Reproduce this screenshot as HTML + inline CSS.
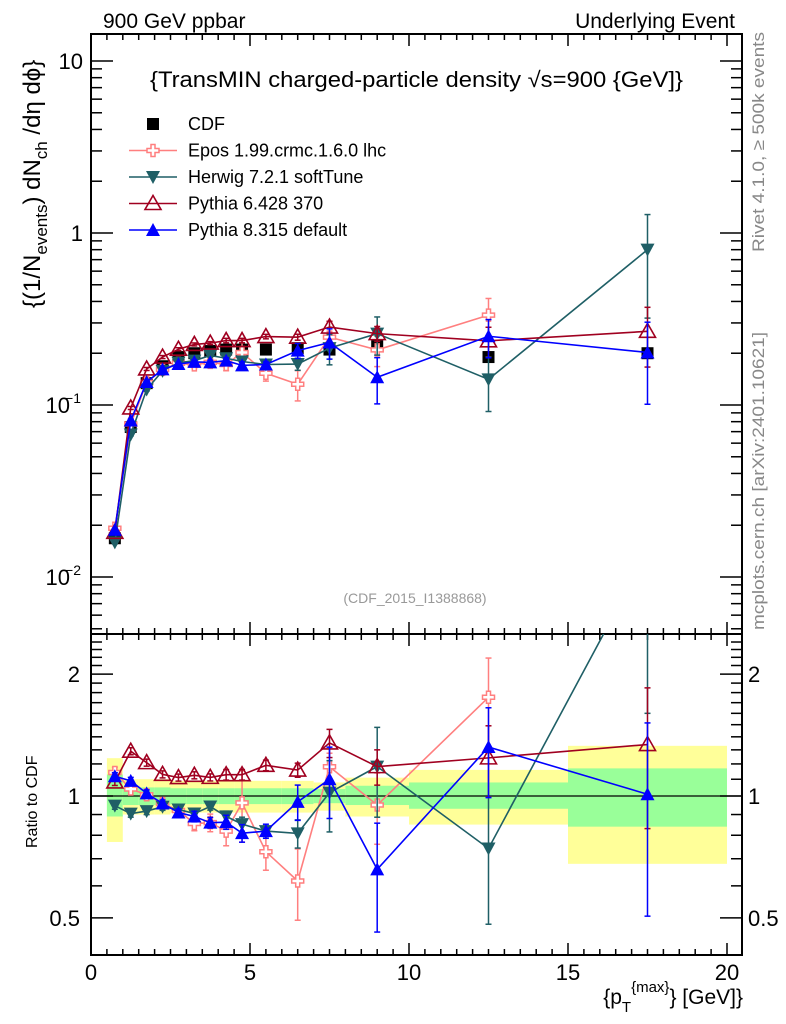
<!DOCTYPE html>
<html><head><meta charset="utf-8"><style>
html,body{margin:0;padding:0;background:#fff;}
svg{display:block;font-family:"Liberation Sans",sans-serif;}
</style></head><body>
<svg id="chart" width="786" height="1024" viewBox="0 0 786 1024" xmlns="http://www.w3.org/2000/svg">
<text x="103" y="28" font-size="21">900 GeV ppbar</text>
<text x="735" y="28" font-size="21" text-anchor="end">Underlying Event</text>
<text transform="translate(764,252) rotate(-90)" font-size="17" fill="#888" textLength="220" lengthAdjust="spacingAndGlyphs">Rivet 4.1.0, ≥ 500k events</text>
<text transform="translate(764,630) rotate(-90)" font-size="17" fill="#888" textLength="298" lengthAdjust="spacingAndGlyphs">mcplots.cern.ch [arXiv:2401.10621]</text>
<text x="150" y="87" font-size="22" textLength="533" lengthAdjust="spacingAndGlyphs">{TransMIN charged-particle density √s=900 {GeV]}</text>
<text x="415" y="603" font-size="14" fill="#999" text-anchor="middle">(CDF_2015_I1388868)</text>
<text transform="translate(40,308) rotate(-90)" font-size="24">{(1/N<tspan font-size="17" dy="7">events</tspan><tspan dy="-7">) dN</tspan><tspan font-size="17" dy="7">ch</tspan><tspan dy="-7"> /dη  dϕ}</tspan></text>
<text transform="translate(37,848) rotate(-90)" font-size="16">Ratio to CDF</text>
<text x="743" y="1004" font-size="21" text-anchor="end">{p<tspan font-size="15" dy="8">T</tspan><tspan font-size="15" dy="-20">{max}</tspan><tspan dy="12">} [GeV]}</tspan></text>
<g id="ratio-bands"></g>
<g id="axes"></g>
<g id="series"></g>
<g id="legend"></g>
</svg>
<script>
const xs = [0.75,1.25,1.75,2.25,2.75,3.25,3.75,4.25,4.75,5.5,6.5,7.5,9,12.5,17.5];
const cdf = [0.0168,0.0745,0.134,0.168,0.19,0.2,0.206,0.21,0.21,0.21,0.214,0.21,0.22,0.19,0.2];
const epos = [0.0192,0.0775,0.135,0.161,0.175,0.171,0.177,0.172,0.202,0.153,0.132,0.248,0.209,0.333];
const herwig = [0.0159,0.0674,0.123,0.158,0.176,0.181,0.194,0.187,0.179,0.172,0.173,0.214,0.26,0.141,0.80];
const pythia6 = [0.0182,0.0961,0.162,0.19,0.211,0.225,0.229,0.237,0.237,0.25,0.248,0.284,0.26,0.236,0.268];
const pythia8 = [0.0188,0.0812,0.136,0.161,0.173,0.178,0.177,0.181,0.170,0.172,0.207,0.231,0.145,0.251,0.202];
const eposErr = [0.03,0.03,0.03,0.03,0.03,0.04,0.05,0.08,0.2,0.1,0.2,0.08,0.2,0.25];
const herwigErr = [0.02,0.02,0.02,0.02,0.02,0.02,0.02,0.03,0.04,0.03,0.08,0.2,0.25,0.35,0.6];
const pythia6Err = [0.02,0.02,0.02,0.02,0.02,0.02,0.02,0.03,0.03,0.03,0.04,0.08,0.1,0.2,0.38];
const pythia8Err = [0.02,0.02,0.02,0.02,0.02,0.03,0.03,0.04,0.05,0.04,0.1,0.2,0.3,0.25,0.5];
const binEdges = [0.5,1,1.5,2,2.5,3,3.5,4,4.5,5,6,7,8,10,15,20];
const bandYelLo = [0.77,0.9,0.9,0.9,0.91,0.91,0.91,0.91,0.91,0.91,0.91,0.92,0.89,0.85,0.68];
const bandYelHi = [1.24,1.1,1.1,1.1,1.09,1.09,1.09,1.09,1.09,1.09,1.09,1.08,1.11,1.16,1.33];
const bandGrnLo = [0.89,0.95,0.95,0.95,0.955,0.955,0.955,0.955,0.955,0.955,0.955,0.96,0.95,0.93,0.84];
const bandGrnHi = [1.13,1.05,1.05,1.05,1.045,1.045,1.045,1.045,1.045,1.045,1.045,1.04,1.06,1.08,1.17];
const xTicks = [0,5,10,15,20];
const ratioTicks = [0.5,1,2];

const NS="http://www.w3.org/2000/svg";
const L=91,R=742,T=34,MID=634,B=955;
const X=v=>L+v*31.8;
const YM=v=>233-Math.log10(v)*172;
const YR=v=>796-Math.log10(v)*405;
function mk(tag,attrs,parent){const e=document.createElementNS(NS,tag);for(const k in attrs)e.setAttribute(k,attrs[k]);parent.appendChild(e);return e;}
const axes=document.getElementById('axes'),ser=document.getElementById('series'),bands=document.getElementById('ratio-bands'),leg=document.getElementById('legend');

for(let i=0;i<bandYelLo.length;i++){
  const x0=X(binEdges[i]),x1=X(binEdges[i+1]);
  const y=mk('rect',{x:x0,y:YR(bandYelHi[i]),width:x1-x0,height:YR(bandYelLo[i])-YR(bandYelHi[i]),fill:'#ffff99'},bands);
  
  
  const g=mk('rect',{x:x0,y:YR(bandGrnHi[i]),width:x1-x0,height:YR(bandGrnLo[i])-YR(bandGrnHi[i]),fill:'#99ff99'},bands);
  
  
}
mk('line',{x1:L,x2:R,y1:YR(1),y2:YR(1),stroke:'#000','stroke-width':1.3},bands);

mk('rect',{x:L,y:T,width:R-L,height:MID-T,fill:'none',stroke:'#000','stroke-width':2},axes);
mk('rect',{x:L,y:MID,width:R-L,height:B-MID,fill:'none',stroke:'#000','stroke-width':2},axes);
function tk(x1,y1,x2,y2){mk('line',{x1,y1,x2,y2,stroke:'#000','stroke-width':1.5},axes);}
for(let v=0;v<=20.4;v+=0.5){
  const maj=Math.abs(v%5)<1e-6, len=maj?12:6, x=X(v);
  tk(x,T,x,T+len); tk(x,MID,x,MID-len); tk(x,MID,x,MID+len); tk(x,B,x,B-len);
}
xTicks.forEach(v=>{const t=mk('text',{x:X(v),y:980,'font-size':22,'text-anchor':'middle'},axes);t.textContent=v;

});
for(let d=-3;d<=1;d++){for(let m=1;m<10;m++){const v=m*Math.pow(10,d);const y=YM(v);if(y<T||y>MID)continue;const len=m==1?22:11;tk(L,y,L+len,y);tk(R,y,R-len,y);}}
[[1,'10',''],[0,'1',''],[-1,'10','−1'],[-2,'10','−2']].forEach(([d,b,s])=>{const t=mk('text',{x:s?70:83,y:YM(Math.pow(10,d))+8,'font-size':22,'text-anchor':'end'},axes);t.textContent=b;


if(s){const sp=mk('text',{x:81,y:YM(Math.pow(10,d))-2,'font-size':14,'text-anchor':'end'},axes);sp.textContent=s;}});
[0.5,0.6,0.7,0.8,0.9,1,1.1,1.2,1.3,1.4,1.5,1.6,1.7,1.8,1.9,2,2.1,2.2,2.3,2.4].forEach(v=>{const y=YR(v);const maj=ratioTicks.includes(v);const len=maj?22:11;tk(L,y,L+len,y);tk(R,y,R-len,y);});
ratioTicks.forEach(v=>{const y=YR(v)+8;
const t=mk('text',{x:80,y,'font-size':22,'text-anchor':'end'},axes);t.textContent=v;


const t2=mk('text',{x:748,y,'font-size':22},axes);t2.textContent=v;

});

function marker(type,x,y,col,g){
  if(type==='sq') return mk('rect',{x:x-6,y:y-6,width:12,height:12,fill:'#000'},g);
  if(type==='cross') return mk('path',{d:`M${x-2},${y-6}h4v4h4v4h-4v4h-4v-4h-4v-4h4z`,fill:'#fff',stroke:col,'stroke-width':1.5},g);
  if(type==='dn') return mk('path',{d:`M${x-7},${y-6}L${x+7},${y-6}L${x},${y+7}Z`,fill:col},g);
  if(type==='upo') return mk('path',{d:`M${x-8},${y+6}L${x+8},${y+6}L${x},${y-8}Z`,fill:'none',stroke:col,'stroke-width':1.6},g);
  if(type==='up') return mk('path',{d:`M${x-7},${y+6}L${x+7},${y+6}L${x},${y-7}Z`,fill:col},g);
}
function clipG(id,y0,y1){const cp=mk('clipPath',{id},ser);mk('rect',{x:L,y:y0,width:R-L,height:y1-y0},cp);return id;}
clipG('cm',T,MID);clipG('cr',MID,B);
const series=[
 {name:'epos',vals:epos,err:eposErr,col:'#ff7f7f',m:'cross'},
 {name:'herwig',vals:herwig,err:herwigErr,col:'#1f5f66',m:'dn'},
 {name:'pythia6',vals:pythia6,err:pythia6Err,col:'#a00020',m:'upo'},
 {name:'pythia8',vals:pythia8,err:pythia8Err,col:'#0000ff',m:'up'}];
const cg=mk('g',{'clip-path':'url(#cm)'},ser);


cdf.forEach((v,i)=>{const p=marker('sq',X(xs[i]),YM(v),'#000',cg);

});
series.forEach(s=>{
  [['m',YM,i=>s.vals[i]],['r',YR,i=>s.vals[i]/cdf[i]]].forEach(([pan,Y,fv])=>{
    const g=mk('g',{'clip-path':`url(#c${pan})`},ser);
    
    
    const pts=s.vals.map((v,i)=>`${X(xs[i])},${Y(fv(i))}`).join(' ');
    mk('polyline',{points:pts,fill:'none',stroke:s.col,'stroke-width':1.6},g);
    s.vals.forEach((v,i)=>{const x=X(xs[i]),c=fv(i),e=s.err[i];
      const y1=Y(c*(1+e)),y2=Y(Math.max(c*(1-e),1e-4));
      mk('line',{x1:x,x2:x,y1,y2,stroke:s.col,'stroke-width':1.5},g);
      mk('line',{x1:x-3,x2:x+3,y1,y2:y1,stroke:s.col,'stroke-width':1.5},g);
      mk('line',{x1:x-3,x2:x+3,y1:y2,y2,stroke:s.col,'stroke-width':1.5},g);
      const p=marker(s.m,x,Y(c),s.col,g);
      
      
    });
  });
});
const legItems=[['CDF','sq','#000'],['Epos 1.99.crmc.1.6.0 lhc','cross','#ff7f7f'],['Herwig 7.2.1 softTune','dn','#1f5f66'],['Pythia 6.428 370','upo','#a00020'],['Pythia 8.315 default','up','#0000ff']];
legItems.forEach(([lab,m,col],i)=>{const y=124+i*26.5;
  const g=mk('g',{},leg);
  
  
  if(i>0) mk('line',{x1:129,x2:177,y1:y,y2:y,stroke:col,'stroke-width':1.6},g);
  marker(m,153,y,col,g);
  const t=mk('text',{x:188,y:y+6,'font-size':18},g);t.textContent=lab;});
</script>
</body></html>
